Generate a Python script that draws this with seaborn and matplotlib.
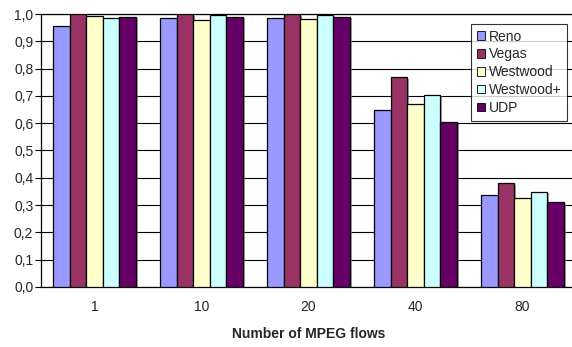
import matplotlib
matplotlib.use("Agg")
import matplotlib.pyplot as plt
import matplotlib.patheffects as pe
from matplotlib.ticker import MultipleLocator, FuncFormatter
import seaborn as sns
import pandas as pd

flows = ["1", "10", "20", "40", "80"]
protocols = ["Reno", "Vegas", "Westwood", "Westwood+", "UDP"]
reno = [0.955, 0.985, 0.985, 0.647, 0.337]
vegas = [1.0, 1.0, 1.0, 0.768, 0.380]
westwood = [0.993, 0.978, 0.980, 0.669, 0.325]
westwood_plus = [0.986, 0.995, 0.997, 0.704, 0.349]
udp = [0.990, 0.990, 0.990, 0.603, 0.310]
colors = ["#9999FF", "#993366", "#FFFFCC", "#CCFFFF", "#660066"]

series = [reno, vegas, westwood, westwood_plus, udp]
df = pd.DataFrame(
    [(f, p, v) for p, vals in zip(protocols, series) for f, v in zip(flows, vals)],
    columns=["flows", "protocol", "value"],
)

sns.set_style("white")
plt.rcParams["font.family"] = ["Liberation Sans", "DejaVu Sans"]
FS = 10

fig = plt.figure(figsize=(5.72, 3.47), dpi=100)
ax = fig.add_axes([41 / 572, 1 - 287 / 347, 535 / 572, 273 / 347])

sns.barplot(
    data=df, x="flows", y="value", hue="protocol",
    order=flows, hue_order=protocols, palette=colors,
    width=0.77, edgecolor="black", linewidth=0.9, saturation=1,
    errorbar=None, ax=ax, zorder=3,
)
for bar in ax.patches:
    bar.set_path_effects([
        pe.SimplePatchShadow(offset=(1.5, -1.2), shadow_rgbFace="#808080", alpha=0.7),
        pe.Normal(),
    ])

ax.set_ylim(0, 1.0)
ax.set_xlim(-0.5, len(flows) - 0.5)
ax.yaxis.set_major_locator(MultipleLocator(0.1))
ax.yaxis.set_major_formatter(FuncFormatter(lambda v, _: f"{v:.1f}".replace(".", ",")))
ax.grid(axis="y", color="black", linewidth=0.8, zorder=0)
ax.set_axisbelow(True)

# category boundary ticks on the x axis
ax.set_xticks([i + 0.5 for i in range(-1, len(flows))], minor=True)
ax.tick_params(axis="x", which="major", length=0, labelsize=FS, pad=9.5)
ax.tick_params(axis="x", which="minor", length=4, width=0.8, color="black", direction="out")
ax.tick_params(axis="y", length=4, width=0.8, color="black", direction="out",
               labelsize=FS, pad=1.5, left=True)

for side in ["left", "bottom", "top"]:
    ax.spines[side].set_visible(True)
    ax.spines[side].set_color("black")
    ax.spines[side].set_linewidth(0.9)
ax.spines["right"].set_visible(False)

ax.set_ylabel("")
ax.set_xlabel("Number of MPEG flows", fontsize=FS, fontweight="bold", labelpad=9)

leg = ax.legend(
    loc="upper right", bbox_to_anchor=((567 - 41) / 535, (287 - 24) / 273),
    borderaxespad=0, fontsize=FS, frameon=True, fancybox=False,
    handlelength=0.55, handleheight=0.55, handletextpad=0.3,
    labelspacing=0.28, borderpad=0.4,
)
leg.get_frame().set_edgecolor("black")
leg.get_frame().set_linewidth(0.8)
for h in leg.legend_handles:
    h.set_edgecolor("black")
    h.set_linewidth(0.6)
    h.set_path_effects([])

fig.savefig("out.png", dpi=100)
